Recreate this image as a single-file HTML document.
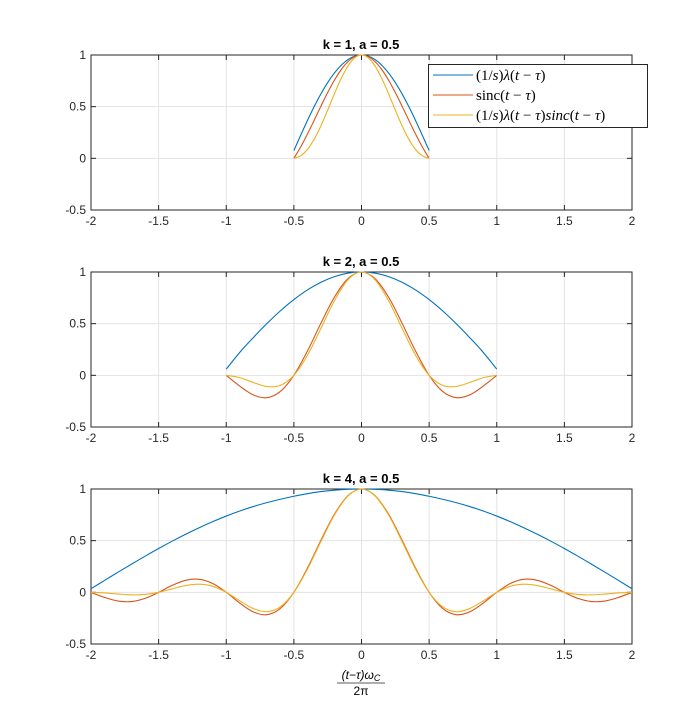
<!DOCTYPE html>
<html><head><meta charset="utf-8"><style>
body{margin:0;background:#fff}
svg text{font-family:"Liberation Sans",Arial,sans-serif}
.tk{font-size:12px;fill:#262626}
.ttl{font-size:13px;font-weight:bold;fill:#000}
.lg{font-family:"Liberation Serif",serif;font-size:15px;fill:#000}
</style></head><body>
<svg id="c" width="699" height="723" viewBox="0 0 699 723" xmlns="http://www.w3.org/2000/svg"></svg>
<script>
// data
const xTicks=[-2,-1.5,-1,-0.5,0,0.5,1,1.5,2];
const yTicks=[-0.5,0,0.5,1];
const titles=["k = 1, a = 0.5","k = 2, a = 0.5","k = 4, a = 0.5"];
const t1=[-0.5,-0.45,-0.4,-0.35,-0.3,-0.25,-0.2,-0.15,-0.1,-0.05,0,0.05,0.1,0.15,0.2,0.25,0.3,0.35,0.4,0.45,0.5];
const blue1=[0.075,0.2225,0.3653,0.5,0.6235,0.733,0.8262,0.901,0.9556,0.9888,1,0.9888,0.9556,0.901,0.8262,0.733,0.6235,0.5,0.3653,0.2225,0.075];
const red1=[0,0.1093,0.2339,0.3679,0.5046,0.6366,0.7568,0.8584,0.9355,0.9836,1,0.9836,0.9355,0.8584,0.7568,0.6366,0.5046,0.3679,0.2339,0.1093,0];
const yel1=[0,0.0243,0.0854,0.184,0.3146,0.4666,0.6253,0.7734,0.894,0.9726,1,0.9726,0.894,0.7734,0.6253,0.4666,0.3146,0.184,0.0854,0.0243,0];
const t2=[-1,-0.9,-0.8,-0.7,-0.6,-0.5,-0.4,-0.3,-0.2,-0.1,0,0.1,0.2,0.3,0.4,0.5,0.6,0.7,0.8,0.9,1];
const blue2=[0.06,0.2225,0.3653,0.5,0.6235,0.733,0.8262,0.901,0.9556,0.9888,1,0.9888,0.9556,0.901,0.8262,0.733,0.6235,0.5,0.3653,0.2225,0.06];
const red2=[0,-0.1039,-0.1892,-0.2162,-0.1559,0,0.2339,0.5046,0.7568,0.9355,1,0.9355,0.7568,0.5046,0.2339,0,-0.1559,-0.2162,-0.1892,-0.1039,0];
const yel2=[0,-0.0231,-0.0691,-0.1081,-0.0972,0,0.1932,0.4546,0.7232,0.925,1,0.925,0.7232,0.4546,0.1932,0,-0.0972,-0.1081,-0.0691,-0.0231,0];
const t3=[-2,-1.9,-1.8,-1.7,-1.6,-1.5,-1.4,-1.3,-1.2,-1.1,-1,-0.9,-0.8,-0.7,-0.6,-0.5,-0.4,-0.3,-0.2,-0.1,0,0.1,0.2,0.3,0.4,0.5,0.6,0.7,0.8,0.9,1,1.1,1.2,1.3,1.4,1.5,1.6,1.7,1.8,1.9,2];
const blue3=[0.035,0.115,0.195,0.273,0.35,0.424,0.495,0.562,0.625,0.684,0.738,0.787,0.83,0.868,0.901,0.93,0.955,0.975,0.989,0.997,1,0.997,0.989,0.975,0.955,0.93,0.901,0.868,0.83,0.787,0.738,0.684,0.625,0.562,0.495,0.424,0.35,0.273,0.195,0.115,0.035];
const red3=[0,-0.0492,-0.0841,-0.089,-0.0585,0,0.0668,0.1164,0.1261,0.085,0,-0.1039,-0.1892,-0.2162,-0.1559,0,0.2339,0.5046,0.7568,0.9355,1,0.9355,0.7568,0.5046,0.2339,0,-0.1559,-0.2162,-0.1892,-0.1039,0,0.085,0.1261,0.1164,0.0668,0,-0.0585,-0.089,-0.0841,-0.0492,0];
const yel3=[0,-0.0057,-0.0164,-0.0243,-0.0205,0,0.0331,0.0654,0.0788,0.0581,0,-0.0818,-0.157,-0.1877,-0.1405,0,0.2234,0.492,0.7485,0.9327,1,0.9327,0.7485,0.492,0.2234,0,-0.1405,-0.1877,-0.157,-0.0818,0,0.0581,0.0788,0.0654,0.0331,0,-0.0205,-0.0243,-0.0164,-0.0057,0];
const panels=[[t1,blue1,red1,yel1],[t2,blue2,red2,yel2],[t3,blue3,red3,yel3]];
const colors=["#0072BD","#D95319","#EDB120"];
const svg=document.getElementById('c');
const NS="http://www.w3.org/2000/svg";
function mk(tag,attrs,parent){const e=document.createElementNS(NS,tag);for(const k in attrs)e.setAttribute(k,attrs[k]);(parent||svg).appendChild(e);return e;}
const X0=91,X1=632;
const tops=[55,272,489],H=155;
function sx(v){return X0+(v+2)/4*(X1-X0);}
function smooth(pts){let d="M"+pts[0][0]+","+pts[0][1];for(let i=0;i<pts.length-1;i++){const p0=pts[i-1]||pts[i],p1=pts[i],p2=pts[i+1],p3=pts[i+2]||p2;
const c1=[p1[0]+(p2[0]-p0[0])/6,p1[1]+(p2[1]-p0[1])/6],c2=[p2[0]-(p3[0]-p1[0])/6,p2[1]-(p3[1]-p1[1])/6];
d+=" C"+c1[0].toFixed(2)+","+c1[1].toFixed(2)+" "+c2[0].toFixed(2)+","+c2[1].toFixed(2)+" "+p2[0].toFixed(2)+","+p2[1].toFixed(2);}return d;}
panels.forEach((p,i)=>{
 const top=tops[i];const sy=v=>top+(1-v)/1.5*H;
 const g=mk('g',{});
 
 
 xTicks.forEach(v=>{const l=mk('line',{x1:sx(v),x2:sx(v),y1:top,y2:top+H,stroke:'#e3e3e3','stroke-width':1},g);
  });
 yTicks.forEach(v=>{const l=mk('line',{x1:X0,x2:X1,y1:sy(v),y2:sy(v),stroke:'#e3e3e3','stroke-width':1},g);
  });
 const b=mk('rect',{x:X0,y:top,width:X1-X0,height:H,fill:'none',stroke:'#262626','stroke-width':1},g);
 
 xTicks.forEach(v=>{mk('line',{x1:sx(v),x2:sx(v),y1:top+H,y2:top+H-5,stroke:'#262626'},g);mk('line',{x1:sx(v),x2:sx(v),y1:top,y2:top+5,stroke:'#262626'},g);
  const t=mk('text',{x:sx(v),y:top+H+15,'text-anchor':'middle',class:'tk'},g);t.textContent=v;
  });
 yTicks.forEach(v=>{mk('line',{x1:X0,x2:X0+5,y1:sy(v),y2:sy(v),stroke:'#262626'},g);mk('line',{x1:X1,x2:X1-5,y1:sy(v),y2:sy(v),stroke:'#262626'},g);
  const t=mk('text',{x:X0-5,y:sy(v)+4,'text-anchor':'end',class:'tk'},g);t.textContent=v;
  });
 const ti=mk('text',{x:361,y:top-6,'text-anchor':'middle',class:'ttl'},g);ti.textContent=titles[i];
 
 const names=['lambda-line','sinc-line','product-line'];
 [1,2,3].forEach(s=>{const pts=p[0].map((t,j)=>[sx(t),sy(p[s][j])]);
  const path=mk('path',{d:smooth(pts),fill:'none',stroke:colors[s-1],'stroke-width':1.1},g);
  });
});
// legend
const lg=mk('g',{});


mk('rect',{x:428.5,y:64.5,width:219,height:63,fill:'#fff',stroke:'#262626'},lg);
const labs=[["(1/","s",")","λ","(","t"," − ","τ",")"],["sinc(","t"," − ","τ",")"],["(1/","s",")","λ","(","t"," − ","τ",")","sinc","(","t"," − ","τ",")"]];
labs.forEach((parts,i)=>{const y=75+i*20;
 mk('line',{x1:433,x2:473,y1:y,y2:y,stroke:colors[i],'stroke-width':1.1},lg);
 const t=mk('text',{x:476,y:y+5,class:'lg'},lg);
 
 
 parts.forEach(s=>{const ts=mk('tspan',{},t);ts.textContent=s;if(/^[stτλ]$|sinc$/.test(s)&&s!=="sinc("){ts.setAttribute('font-style','italic');}});
});
// x label
const xl=mk('g',{});


const n=mk('text',{x:361,y:679,'text-anchor':'middle','font-size':'12px','font-family':'Liberation Serif,serif','font-style':'italic'},xl);n.textContent="(t−τ)ω";
const sb=mk('tspan',{'font-size':'9px',dy:2},n);sb.textContent="C";
mk('line',{x1:337,x2:385,y1:683,y2:683,stroke:'#262626','stroke-width':0.8},xl);
const d=mk('text',{x:361,y:695,'text-anchor':'middle','font-size':'12px','font-family':'Liberation Serif,serif'},xl);d.textContent="2π";
</script>
</body></html>
